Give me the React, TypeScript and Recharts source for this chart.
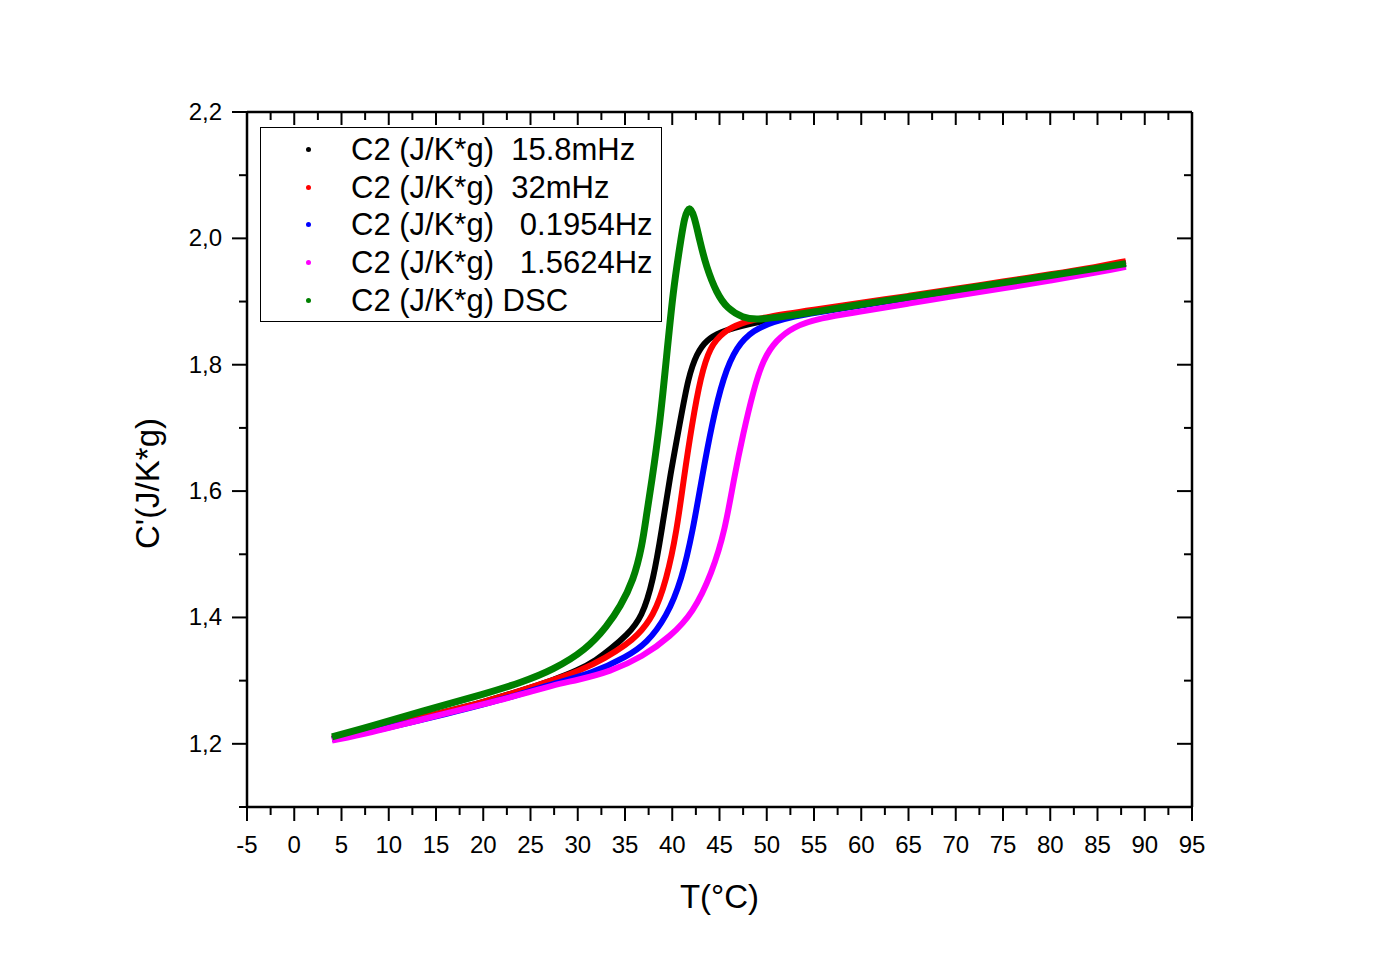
import React from "react";
import { LineChart, Line, XAxis, YAxis, Legend } from "recharts";

const FONT = "'Liberation Sans', Arial, Helvetica, sans-serif";

// tick positions (majors every 5 °C / 0.2, minors in between)
const xTicks = [
  -5, -2.5, 0, 2.5, 5, 7.5, 10, 12.5, 15, 17.5, 20, 22.5, 25, 27.5, 30, 32.5, 35,
  37.5, 40, 42.5, 45, 47.5, 50, 52.5, 55, 57.5, 60, 62.5, 65, 67.5, 70, 72.5, 75,
  77.5, 80, 82.5, 85, 87.5, 90, 92.5, 95,
];
const yTicks = [1.1, 1.2, 1.3, 1.4, 1.5, 1.6, 1.7, 1.8, 1.9, 2.0, 2.1, 2.2];

const seriesNames = [
  "C2 (J/K*g)  15.8mHz",
  "C2 (J/K*g)  32mHz",
  "C2 (J/K*g)   0.1954Hz",
  "C2 (J/K*g)   1.5624Hz",
  "C2 (J/K*g) DSC",
];
const seriesColors = ["#000000", "#ff0000", "#0000ff", "#ff00ff", "#008000"];

// 15.8 mHz
const tBlack = [4, 8, 12, 16, 20, 24, 27.4, 30, 32, 33.4, 35.2, 36.8, 38, 38.9, 39.7, 40.8, 41.7, 42.6, 43.6, 45.1, 47.2, 49.3, 52, 55, 60, 65, 70, 75, 80, 85, 88];
const cBlack = [1.208, 1.222, 1.236, 1.251, 1.266, 1.284, 1.301, 1.316, 1.333, 1.349, 1.372, 1.4, 1.459, 1.539, 1.618, 1.707, 1.781, 1.818, 1.839, 1.852, 1.861, 1.868, 1.876, 1.883, 1.895, 1.906, 1.918, 1.929, 1.94, 1.952, 1.961];

// 32 mHz
const tRed = [4, 8, 12, 16, 20, 24, 27.4, 30, 33, 35.2, 36.2, 38, 39.4, 40.5, 41.2, 42.1, 43, 44, 45.4, 47.2, 50, 55, 60, 65, 70, 75, 80, 85, 88];
const cRed = [1.208, 1.222, 1.236, 1.251, 1.266, 1.284, 1.301, 1.314, 1.336, 1.358, 1.37, 1.401, 1.459, 1.539, 1.618, 1.707, 1.781, 1.829, 1.852, 1.866, 1.876, 1.887, 1.898, 1.909, 1.92, 1.932, 1.943, 1.955, 1.964];

// 0.1954 Hz
const tBlue = [4, 8, 12, 16, 20, 24, 27.4, 31.6, 35.2, 37.3, 39.4, 41, 42.2, 43.1, 44.2, 45.4, 46.8, 48.6, 50.7, 53, 55, 60, 65, 70, 75, 80, 85, 88];
const cBlue = [1.207, 1.219, 1.233, 1.247, 1.262, 1.279, 1.295, 1.312, 1.338, 1.359, 1.401, 1.459, 1.539, 1.618, 1.707, 1.781, 1.829, 1.855, 1.868, 1.877, 1.882, 1.894, 1.905, 1.917, 1.928, 1.939, 1.951, 1.959];

// 1.5624 Hz
const tPink = [4, 8, 13.3, 20.4, 24, 27.4, 30, 33.4, 36.9, 39.8, 42.2, 44.2, 45.6, 46.5, 47.5, 48.6, 49.6, 51, 52.8, 55.6, 60, 65, 70, 75, 80, 85, 88];
const cPink = [1.205, 1.217, 1.238, 1.264, 1.278, 1.293, 1.301, 1.314, 1.338, 1.37, 1.407, 1.47, 1.539, 1.618, 1.691, 1.76, 1.808, 1.839, 1.86, 1.874, 1.884, 1.897, 1.909, 1.921, 1.933, 1.946, 1.955];

// DSC
const tGreen = [4, 8, 13.3, 20.4, 24, 27.4, 30.9, 33.1, 34.5, 35.9, 36.8, 37.3, 37.8, 38.7, 39.4, 40.1, 40.8, 41.3, 41.8, 42.3, 42.9, 43.6, 44.7, 45.8, 47.5, 48.9, 51.7, 55.3, 58.8, 65, 71.2, 80, 88];
const cGreen = [1.211, 1.227, 1.251, 1.28, 1.297, 1.317, 1.349, 1.386, 1.417, 1.459, 1.512, 1.565, 1.612, 1.707, 1.813, 1.918, 1.987, 2.035, 2.052, 2.037, 1.997, 1.955, 1.913, 1.889, 1.874, 1.871, 1.876, 1.884, 1.893, 1.907, 1.921, 1.941, 1.96];

const toPoints = (t: number[], c: number[]) => t.map((x, i) => ({ t: x, c: c[i] }));

const series = [
  toPoints(tBlack, cBlack),
  toPoints(tRed, cRed),
  toPoints(tBlue, cBlue),
  toPoints(tPink, cPink),
  toPoints(tGreen, cGreen),
];

const isMajorX = (v: number) => Math.abs(v % 5) < 1e-6;
const isMajorY = (v: number) => Math.round(v * 10) % 2 === 0;

const BottomTick = ({ x, y, payload }: any) => {
  const major = isMajorX(payload.value);
  return (
    <g>
      <line x1={x} x2={x} y1={y} y2={y + (major ? 14 : 8)} stroke="#000" strokeWidth={2} />
      {major && (
        <text x={x} y={y + 46} textAnchor="middle" fontSize={24} fontFamily={FONT} fill="#000">
          {payload.value}
        </text>
      )}
    </g>
  );
};

const TopTick = ({ x, y, payload }: any) => (
  <line x1={x} x2={x} y1={y} y2={y + (isMajorX(payload.value) ? 13 : 8)} stroke="#000" strokeWidth={2} />
);

const LeftTick = ({ x, y, payload }: any) => {
  const major = isMajorY(payload.value);
  return (
    <g>
      <line x1={x} x2={x - (major ? 15 : 8)} y1={y} y2={y} stroke="#000" strokeWidth={2} />
      {major && (
        <text x={x - 25} y={y + 8} textAnchor="end" fontSize={24} fontFamily={FONT} fill="#000">
          {payload.value.toFixed(1).replace(".", ",")}
        </text>
      )}
    </g>
  );
};

const RightTick = ({ x, y, payload }: any) => (
  <line x1={x} x2={x - (isMajorY(payload.value) ? 15 : 8)} y1={y} y2={y} stroke="#000" strokeWidth={2} />
);

const XTitle = ({ viewBox }: any) => (
  <text
    x={viewBox.x + viewBox.width / 2}
    y={viewBox.y + 101}
    textAnchor="middle"
    fontSize={33}
    fontFamily={FONT}
    fill="#000"
  >
    T(°C)
  </text>
);

const YTitle = ({ viewBox }: any) => {
  const cx = viewBox.x - 28;
  const cy = viewBox.y + viewBox.height / 2 + 24;
  return (
    <text
      x={cx}
      y={cy}
      transform={`rotate(-90 ${cx} ${cy})`}
      textAnchor="middle"
      fontSize={33}
      fontFamily={FONT}
      fill="#000"
    >
      C'(J/K*g)
    </text>
  );
};

// legend drawn from the series arrays so the order stays as in the figure
const LegendBox = () => (
  <div
    style={{
      border: "1px solid #000",
      background: "#fff",
      width: 400,
      paddingTop: 3,
      paddingBottom: 2,
      fontFamily: FONT,
      fontSize: 31,
      color: "#000",
    }}
  >
    {seriesNames.map((name, i) => (
      <div key={name} style={{ position: "relative", height: 37.7, lineHeight: "38px" }}>
        <span
          style={{
            position: "absolute",
            left: 45,
            top: 16,
            width: 5,
            height: 5,
            borderRadius: "50%",
            background: seriesColors[i],
          }}
        />
        <span style={{ position: "absolute", left: 90, whiteSpace: "pre" }}>{name}</span>
      </div>
    ))}
  </div>
);

export default function App() {
  return (
    <LineChart
      width={1370}
      height={950}
      margin={{ top: 104, right: 186, bottom: 50, left: 179 }}
    >
      <XAxis
        dataKey="t"
        type="number"
        domain={[-5, 95]}
        ticks={xTicks}
        interval={0}
        allowDataOverflow
        height={101}
        tickSize={0}
        tickMargin={0}
        tickLine={false}
        axisLine={{ stroke: "#000", strokeWidth: 2.5 }}
        tick={<BottomTick />}
        label={{ content: XTitle }}
      />
      <XAxis
        xAxisId="top"
        orientation="top"
        mirror
        dataKey="t"
        type="number"
        domain={[-5, 95]}
        ticks={xTicks}
        interval={0}
        allowDataOverflow
        tickSize={0}
        tickMargin={0}
        tickLine={false}
        axisLine={{ stroke: "#000", strokeWidth: 2.5 }}
        tick={<TopTick />}
      />
      <YAxis
        type="number"
        domain={[1.1, 2.2]}
        ticks={yTicks}
        interval={0}
        allowDataOverflow
        width={60}
        tickSize={0}
        tickMargin={0}
        tickLine={false}
        axisLine={{ stroke: "#000", strokeWidth: 2.5 }}
        tick={<LeftTick />}
        label={{ content: YTitle }}
      />
      <YAxis
        yAxisId="right"
        orientation="right"
        mirror
        type="number"
        domain={[1.1, 2.2]}
        ticks={yTicks}
        interval={0}
        allowDataOverflow
        width={60}
        tickSize={0}
        tickMargin={0}
        tickLine={false}
        axisLine={{ stroke: "#000", strokeWidth: 2.5 }}
        tick={<RightTick />}
      />
      <Legend
        layout="vertical"
        align="center"
        verticalAlign="middle"
        content={<LegendBox />}
        wrapperStyle={{ left: 252, top: 119, width: "auto" }}
      />
      {series.map((d, i) => (
        <Line
          key={seriesNames[i]}
          data={d}
          dataKey="c"
          name={seriesNames[i]}
          type="basis"
          stroke={seriesColors[i]}
          strokeWidth={i === 4 ? 7 : 6}
          dot={false}
          legendType="circle"
          isAnimationActive={false}
        />
      ))}
    </LineChart>
  );
}
